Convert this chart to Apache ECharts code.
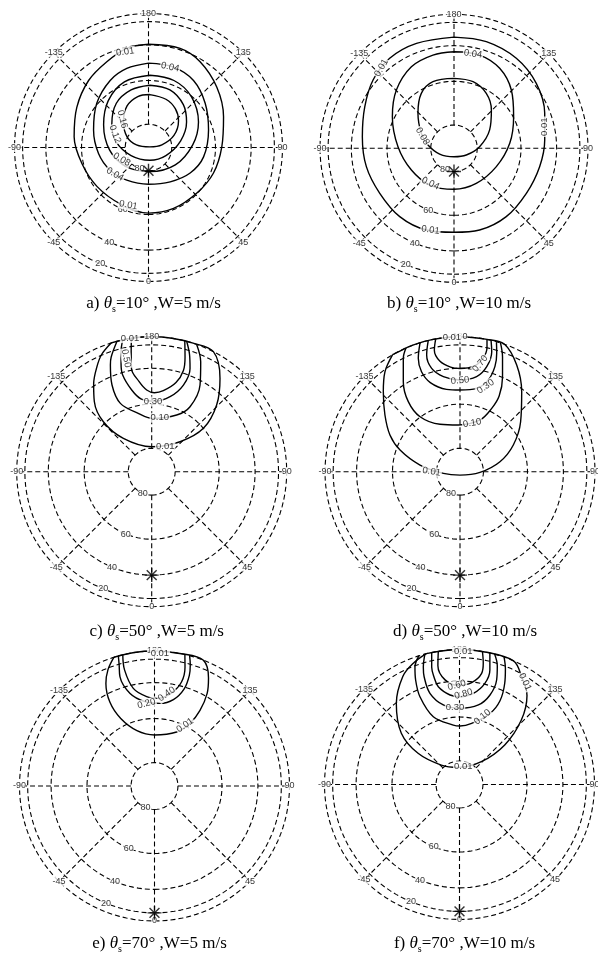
<!DOCTYPE html>
<html><head><meta charset="utf-8">
<script src="https://cdn.jsdelivr.net/npm/echarts@6/dist/echarts.min.js"></script>
<style>html,body{margin:0;padding:0;background:#fff}#c{width:598px;height:956px}</style>
</head><body><div id="c"></div>
<script>
// ---------------- DATA ----------------
const panelIds = ['a', 'b', 'c', 'd', 'e', 'f'];
const sunZenith = [10, 10, 50, 50, 70, 70];   // deg
const windSpeed = [5, 10, 5, 10, 5, 10];      // m/s
const ringElevations = [80, 60, 40, 20, 0];   // deg (orthographic rings)
const ringLabels = ['80', '60', '40', '20'];
const spokeAzimuths = [0, 45, 90, 135, 180, 225, 270, 315];
const angleTickValues = [180, 135, 90, 45, 0, -45, -90, -135];
const angleTickLabels = ['180', '135', '90', '45', '0', '-45', '-90', '-135'];

// contour points in projected plane units: [east, north] (north = azimuth 180 direction)
const contoursA = [
  { level: '0.01', pts: [[0,0.77],[0.236,0.74],[0.385,0.64],[0.51,0.45],[0.56,0.23],[0.547,0.005],[0.485,-0.19],[0.361,-0.34],[0.187,-0.455],[0,-0.49],[-0.211,-0.42],[-0.385,-0.29],[-0.497,-0.12],[-0.555,0.08],[-0.535,0.30],[-0.447,0.50],[-0.311,0.64],[-0.162,0.74],[0,0.77]] },
  { level: '0.04', pts: [[0,0.63],[0.188,0.60],[0.336,0.50],[0.423,0.33],[0.448,0.13],[0.411,-0.07],[0.311,-0.19],[0.162,-0.256],[0,-0.274],[-0.162,-0.244],[-0.286,-0.17],[-0.373,-0.045],[-0.41,0.13],[-0.386,0.33],[-0.286,0.50],[-0.162,0.59],[0,0.63]] },
  { level: '0.08', pts: [[0.01,0.539],[0.19,0.50],[0.32,0.38],[0.373,0.19],[0.33,0.02],[0.2,-0.13],[0.01,-0.18],[-0.17,-0.14],[-0.29,-0.02],[-0.335,0.17],[-0.3,0.35],[-0.18,0.49],[0.01,0.539]] },
  { level: '0.12', pts: [[0.01,0.465],[0.16,0.43],[0.26,0.32],[0.284,0.19],[0.24,0.05],[0.13,-0.06],[0.01,-0.095],[-0.13,-0.06],[-0.24,0.04],[-0.274,0.17],[-0.24,0.33],[-0.13,0.43],[0.01,0.465]] },
  { level: '0.16', pts: [[0.01,0.395],[0.13,0.36],[0.2,0.29],[0.224,0.2],[0.19,0.09],[0.1,0.02],[0.01,0.005],[-0.09,0.02],[-0.16,0.08],[-0.187,0.19],[-0.16,0.31],[-0.08,0.38],[0.01,0.395]] }
];
const contoursB = [
  { level: '0.01', pts: [[0,0.83],[0.241,0.796],[0.465,0.672],[0.614,0.485],[0.677,0.261],[0.677,0.062],[0.639,-0.137],[0.54,-0.336],[0.39,-0.51],[0.191,-0.61],[0,-0.627],[-0.206,-0.61],[-0.405,-0.51],[-0.554,-0.336],[-0.654,-0.137],[-0.684,0.087],[-0.666,0.31],[-0.604,0.51],[-0.48,0.672],[-0.28,0.783],[0,0.83]] },
  { level: '0.04', pts: [[0,0.721],[0.191,0.696],[0.341,0.597],[0.428,0.435],[0.445,0.236],[0.416,0.037],[0.316,-0.137],[0.166,-0.262],[0,-0.306],[-0.18,-0.274],[-0.318,-0.162],[-0.418,0.012],[-0.46,0.236],[-0.43,0.435],[-0.318,0.609],[-0.157,0.696],[0,0.721]] },
  { level: '0.08', pts: [[0,0.522],[0.142,0.497],[0.241,0.41],[0.279,0.286],[0.266,0.137],[0.191,0.012],[0.092,-0.05],[0,-0.063],[-0.107,-0.043],[-0.194,0.025],[-0.244,0.112],[-0.269,0.261],[-0.244,0.41],[-0.157,0.497],[0,0.522]] }
];
const contoursC = [
  { level: '0.01', pts: [[-0.30,0.954],[-0.37,0.87],[-0.405,0.78],[-0.43,0.65],[-0.425,0.52],[-0.358,0.37],[-0.21,0.247],[0,0.185],[0.21,0.222],[0.383,0.321],[0.481,0.494],[0.506,0.691],[0.457,0.889],[0.3,0.954],[0.15,0.989],[0,1],[-0.15,0.989],[-0.30,0.954]] },
  { level: '0.10', pts: [[-0.257,0.966],[-0.30,0.85],[-0.306,0.79],[-0.294,0.642],[-0.232,0.506],[-0.096,0.43],[0,0.395],[0.185,0.42],[0.284,0.481],[0.358,0.642],[0.363,0.815],[0.333,0.943]] },
  { level: '0.30', pts: [[-0.215,0.977],[-0.227,0.889],[-0.227,0.80],[-0.215,0.716],[-0.148,0.605],[-0.08,0.54],[0.02,0.523],[0.136,0.556],[0.235,0.642],[0.284,0.765],[0.28,0.87],[0.259,0.966]] },
  { level: '0.50', pts: [[-0.15,0.989],[-0.152,0.90],[-0.15,0.765],[-0.093,0.667],[-0.037,0.605],[0.02,0.585],[0.086,0.6],[0.18,0.66],[0.235,0.75],[0.247,0.85],[0.245,0.97]] }
];
const contoursD = [
  { level: '0.01', pts: [[-0.5,0.866],[-0.556,0.74],[-0.568,0.593],[-0.556,0.42],[-0.519,0.272],[-0.444,0.16],[-0.296,0.049],[-0.123,-0.012],[0,-0.025],[0.148,-0.005],[0.296,0.074],[0.395,0.198],[0.449,0.37],[0.457,0.593],[0.42,0.79],[0.33,0.944],[0.2,0.98],[0,1],[-0.2,0.98],[-0.35,0.937],[-0.5,0.866]] },
  { level: '0.10', pts: [[-0.40,0.916],[-0.42,0.84],[-0.42,0.667],[-0.383,0.519],[-0.296,0.407],[-0.148,0.351],[-0.012,0.346],[0.148,0.383],[0.235,0.469],[0.29,0.56],[0.315,0.70],[0.315,0.85],[0.30,0.954]] },
  { level: '0.30', pts: [[-0.296,0.955],[-0.309,0.84],[-0.285,0.74],[-0.22,0.66],[-0.1,0.61],[0,0.605],[0.123,0.617],[0.21,0.68],[0.259,0.78],[0.272,0.88],[0.27,0.96]] },
  { level: '0.50', pts: [[-0.235,0.972],[-0.247,0.864],[-0.21,0.765],[-0.123,0.704],[0,0.679],[0.123,0.704],[0.198,0.778],[0.235,0.889],[0.23,0.973]] },
  { level: '0.70', pts: [[-0.18,0.984],[-0.19,0.9],[-0.15,0.82],[-0.07,0.775],[0,0.765],[0.1,0.78],[0.17,0.84],[0.2,0.92],[0.2,0.98]] }
];
const contoursE = [
  { level: '0.01', pts: [[-0.30,0.954],[-0.345,0.86],[-0.36,0.76],[-0.33,0.62],[-0.25,0.50],[-0.13,0.41],[0,0.378],[0.164,0.40],[0.263,0.464],[0.337,0.56],[0.39,0.686],[0.40,0.80],[0.36,0.933],[0.2,0.98],[0,1],[-0.15,0.989],[-0.30,0.954]] },
  { level: '0.20', pts: [[-0.268,0.963],[-0.262,0.90],[-0.256,0.81],[-0.181,0.686],[-0.07,0.625],[0.04,0.612],[0.14,0.64],[0.22,0.72],[0.258,0.82],[0.265,0.90],[0.26,0.966]] },
  { level: '0.40', pts: [[-0.235,0.972],[-0.222,0.86],[-0.157,0.723],[-0.058,0.662],[0.028,0.65],[0.127,0.69],[0.2,0.77],[0.226,0.88],[0.225,0.974]] }
];
const contoursF = [
  { level: '0.01', pts: [[-0.246,0.969],[-0.34,0.90],[-0.42,0.80],[-0.468,0.60],[-0.431,0.38],[-0.307,0.231],[-0.135,0.144],[-0.011,0.127],[0.162,0.169],[0.335,0.293],[0.458,0.478],[0.50,0.66],[0.46,0.80],[0.40,0.916],[0.2,0.98],[0,1],[-0.246,0.969]] },
  { level: '0.10', pts: [[-0.30,0.954],[-0.33,0.87],[-0.325,0.774],[-0.293,0.65],[-0.194,0.502],[-0.046,0.44],[0.004,0.433],[0.09,0.453],[0.226,0.526],[0.30,0.62],[0.335,0.75],[0.34,0.86],[0.33,0.944]] },
  { level: '0.30', pts: [[-0.256,0.967],[-0.268,0.87],[-0.262,0.798],[-0.219,0.675],[-0.12,0.589],[0.004,0.564],[0.14,0.589],[0.226,0.663],[0.275,0.774],[0.28,0.88],[0.26,0.966]] },
  { level: '0.60', pts: [[-0.206,0.978],[-0.206,0.87],[-0.19,0.80],[-0.157,0.724],[-0.07,0.663],[0.004,0.65],[0.103,0.675],[0.188,0.749],[0.225,0.848],[0.225,0.974]] },
  { level: '0.80', pts: [[-0.157,0.988],[-0.16,0.88],[-0.107,0.775],[-0.009,0.735],[0.09,0.755],[0.164,0.823],[0.176,0.90],[0.17,0.985]] }
];

// contour labels: [text, east, north, rotation]
const labelsA = [['0.01',-0.174,0.713,8],['0.04',0.162,0.60,-12],['0.16',-0.195,0.21,-75],['0.12',-0.25,0.10,-70],['0.08',-0.2,-0.09,-30],['0.04',-0.25,-0.2,-30],['0.01',-0.15,-0.43,-10]];
const labelsB = [['0.01',-0.542,0.60,60],['0.04',0.142,0.704,-8],['0.01',0.677,0.161,90],['0.08',-0.235,0.09,-60],['0.04',-0.176,-0.262,-25],['0.01',-0.176,-0.61,-8]];
const labelsC = [['0.01',-0.16,0.99,0],['0.50',-0.19,0.84,-80],['0.30',0.01,0.52,0],['0.10',0.06,0.40,0],['0.01',0.1,0.19,0]];
const labelsD = [['0.01',-0.06,0.995,0],['0.70',0.15,0.80,50],['0.50',0,0.675,5],['0.30',0.19,0.63,35],['0.10',0.09,0.36,10],['0.01',-0.21,0.0,-10]];
const labelsE = [['0.01',0.04,0.985,0],['0.40',0.09,0.68,35],['0.20',-0.06,0.61,15],['0.01',0.226,0.45,35]];
const labelsF = [['0.01',0.028,0.985,0],['0.60',-0.02,0.735,15],['0.80',0.03,0.67,15],['0.30',-0.033,0.568,0],['0.10',0.17,0.50,40],['0.01',0.485,0.76,-65],['0.01',0.028,0.135,0]];

const allContours = [contoursA, contoursB, contoursC, contoursD, contoursE, contoursF];
const allLabels = [labelsA, labelsB, labelsC, labelsD, labelsE, labelsF];

// ---------------- LAYOUT ----------------
const panelCenters = [[148.5,147.5],[454,148.3],[151.7,471.7],[460,471.7],[154.5,786],[459.5,784.5]];
const panelRadius = [134,134,135,135,135,135];
const radiusPad = 1.06;   // axis extent beyond the horizon ring so nothing is clipped
const captionTop = [289,289,617,617,929,929];
const ringLabelAz = -22.5;

const D2R = Math.PI / 180;
function toPolar(p) {
  const r = Math.hypot(p[0], p[1]);
  let az = Math.atan2(p[0], -p[1]) / D2R;
  if (az < 0) az += 360;
  return [r, az];
}
function az360(a) { return (a % 360 + 360) % 360; }

const polar = [], angleAxis = [], radiusAxis = [], series = [], title = [];
const txt = { fontSize: 9, fontFamily: 'Liberation Sans, Arial, sans-serif', color: '#000' };
const dashed = { color: '#000', width: 1.1, type: [5, 3] };
const serif = 'Liberation Serif, Times New Roman, serif';

panelIds.forEach((id, i) => {
  polar.push({ center: panelCenters[i], radius: panelRadius[i] * radiusPad });
  angleAxis.push({ polarIndex: i, type: 'value', min: 0, max: 360, startAngle: -90, clockwise: false, show: false });
  radiusAxis.push({ polarIndex: i, type: 'value', min: 0, max: radiusPad, show: false });

  // rings
  ringElevations.forEach(el => {
    const r = Math.cos(el * D2R);
    const pts = [];
    for (let a = 0; a <= 360; a += 3) pts.push([r, a]);
    series.push({ type: 'line', coordinateSystem: 'polar', polarIndex: i, data: pts, showSymbol: false, silent: true, clip: false, lineStyle: dashed, z: 1, animation: false });
  });
  // spokes
  const rIn = Math.cos(ringElevations[0] * D2R);
  spokeAzimuths.forEach(a => {
    series.push({ type: 'line', coordinateSystem: 'polar', polarIndex: i, data: [[rIn, a], [1, a]], showSymbol: false, silent: true, clip: false, lineStyle: dashed, z: 1, animation: false });
  });
  // contours
  allContours[i].forEach(c => {
    series.push({ type: 'line', name: c.level, coordinateSystem: 'polar', polarIndex: i, data: c.pts.map(toPolar), showSymbol: false, silent: true, clip: false, smooth: 0.35, lineStyle: { color: '#000', width: 1.4 }, z: 2, animation: false });
  });
  // axis labels (angle)
  series.push({
    type: 'scatter', coordinateSystem: 'polar', polarIndex: i, symbolSize: 0, silent: true, z: 5, animation: false, clip: false,
    data: angleTickValues.map((v, k) => ({ value: [1, az360(v)], name: angleTickLabels[k] })),
    label: Object.assign({ show: true, position: 'inside', formatter: '{b}', backgroundColor: '#fff', padding: [0, 0] }, txt)
  });
  // ring labels
  series.push({
    type: 'scatter', coordinateSystem: 'polar', polarIndex: i, symbolSize: 0, silent: true, z: 5, animation: false,
    data: ringLabels.map((t, k) => ({ value: [Math.cos(ringElevations[k] * D2R), az360(ringLabelAz)], name: t })),
    label: Object.assign({ show: true, position: 'inside', formatter: '{b}', backgroundColor: '#fff', padding: [0, 0] }, txt)
  });
  // contour labels
  series.push({
    type: 'scatter', coordinateSystem: 'polar', polarIndex: i, symbolSize: 0, silent: true, z: 6, animation: false, clip: false,
    data: allLabels[i].map(l => ({ value: toPolar([l[1], l[2]]), name: l[0], label: { rotate: l[3] } })),
    label: Object.assign({ show: true, position: 'inside', formatter: '{b}', backgroundColor: '#fff', padding: [0, 1] }, txt, { fontSize: 9.5 })
  });
  // sun position (star)
  series.push({
    type: 'scatter', coordinateSystem: 'polar', polarIndex: i, silent: true, z: 7, animation: false, clip: false,
    data: [[Math.sin(sunZenith[i] * D2R), 0]],
    symbol: 'path://M-0.7,-7L0.7,-7L0.7,7L-0.7,7ZM-7,-0.7L7,-0.7L7,0.7L-7,0.7ZM-5.45,-4.45L-4.45,-5.45L5.45,4.45L4.45,5.45ZM4.45,-5.45L5.45,-4.45L-4.45,5.45L-5.45,4.45Z',
    symbolSize: 14, itemStyle: { color: '#000' }
  });
  // caption
  title.push({
    left: panelCenters[i][0], top: captionTop[i], textAlign: 'center',
    text: '{t|' + id + ') }{th|θ}{s|s}{t|=' + sunZenith[i] + '° ,W=' + windSpeed[i] + ' m/s}',
    textStyle: {
      fontWeight: 'normal',
      rich: {
        t: { fontFamily: serif, fontSize: 17, fontWeight: 'normal', color: '#000', lineHeight: 20 },
        th: { fontFamily: serif, fontSize: 17, fontStyle: 'italic', fontWeight: 'normal', color: '#000', lineHeight: 20 },
        s: { fontFamily: serif, fontSize: 10, fontWeight: 'normal', color: '#000', lineHeight: 20, verticalAlign: 'bottom', padding: [6, 0, 0, 0] }
      }
    }
  });
});

const chart = echarts.init(document.getElementById('c'), null, { renderer: 'canvas' });
chart.setOption({ animation: false, backgroundColor: '#fff', title, polar, angleAxis, radiusAxis, series });
</script></body></html>
